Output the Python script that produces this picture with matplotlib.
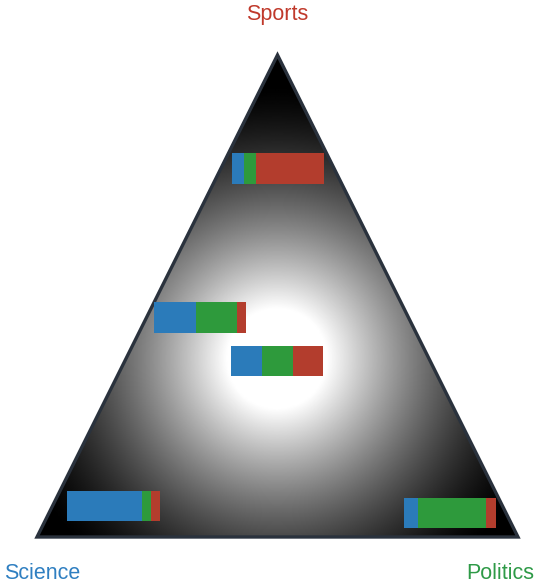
import numpy as np
import matplotlib
matplotlib.use("Agg")
import matplotlib.pyplot as plt
from matplotlib.patches import Polygon

# ---- data ----
topics = ["Science", "Politics", "Sports"]
topic_colors = ["#2b7bba", "#2e9a3c", "#b33d2d"]
label_colors = ["#2f7fc1", "#2e9a47", "#c0392b"]

# topic share of each document (Science, Politics, Sports)
science_share = [0.13, 0.46, 0.33, 0.81, 0.15]
politics_share = [0.13, 0.44, 0.34, 0.09, 0.74]
sports_share = [0.74, 0.10, 0.33, 0.10, 0.11]

# layout: centre of each stacked bar inside the unit triangle
bar_cx = [0.5004, 0.339, 0.4994, 0.1594, 0.859]
bar_cy = [0.765, 0.4554, 0.3656, 0.0639, 0.0498]
BAR_W = 0.192
BAR_H = 0.0633

# ---- figure ----
W_PX, H_PX = 545, 584
fig = plt.figure(figsize=(W_PX / 100, H_PX / 100), dpi=100)
ax = fig.add_axes([0, 0, 1, 1])
# unit triangle (0,0)-(1,0)-(0.5,1) mapped to pixels: left 37, right 518, base 537, apex 55
sx, sy = 481.0, 482.0
ax.set_xlim(-37 / sx, (W_PX - 37) / sx)
ax.set_ylim((537 - H_PX) / sy, 537 / sy)
ax.axis("off")

tri_pts = np.array([[0, 0], [1, 0], [0.5, 1]])

# radial gradient background, clipped to triangle
xs = np.linspace(0, 1, 600)
ys = np.linspace(0, 1, 600)
X, Y = np.meshgrid(xs, ys)
xc, yc = 0.499, 0.37
r = np.hypot((X - xc) * sx, (Y - yc) * sy)
r0, R = 50.0, 275.0
v = np.clip(1 - (r - r0) / (R - r0), 0, 1) ** 1.45
img = ax.imshow(v, extent=(0, 1, 0, 1), origin="lower", cmap="gray",
                vmin=0, vmax=1, interpolation="bilinear", zorder=1, aspect="auto")
clip = Polygon(tri_pts, closed=True, transform=ax.transData, facecolor="none")
img.set_clip_path(clip)

outline = Polygon(tri_pts, closed=True, facecolor="none", edgecolor="#2a323d",
                  linewidth=2.4, joinstyle="miter", zorder=3)
ax.add_patch(outline)

# stacked bars
shares = np.array([science_share, politics_share, sports_share])
for i in range(len(bar_cx)):
    left = bar_cx[i] - BAR_W / 2
    for k in range(len(topics)):
        w = shares[k, i] * BAR_W
        ax.barh(bar_cy[i], w, left=left, height=BAR_H, color=topic_colors[k],
                edgecolor="none", zorder=4)
        left += w

# vertex labels
font = "Liberation Sans"
ax.text(0.499, 1.0726, topics[2], color=label_colors[2], fontsize=15.5,
        family=font, ha="center", va="baseline")
ax.text(0.0104, -0.0871, topics[0], color=label_colors[0], fontsize=15.5,
        family=font, ha="center", va="baseline")
ax.text(0.9626, -0.0871, topics[1], color=label_colors[1], fontsize=15.5,
        family=font, ha="center", va="baseline")

fig.savefig("out.png", dpi=100, facecolor="white")
